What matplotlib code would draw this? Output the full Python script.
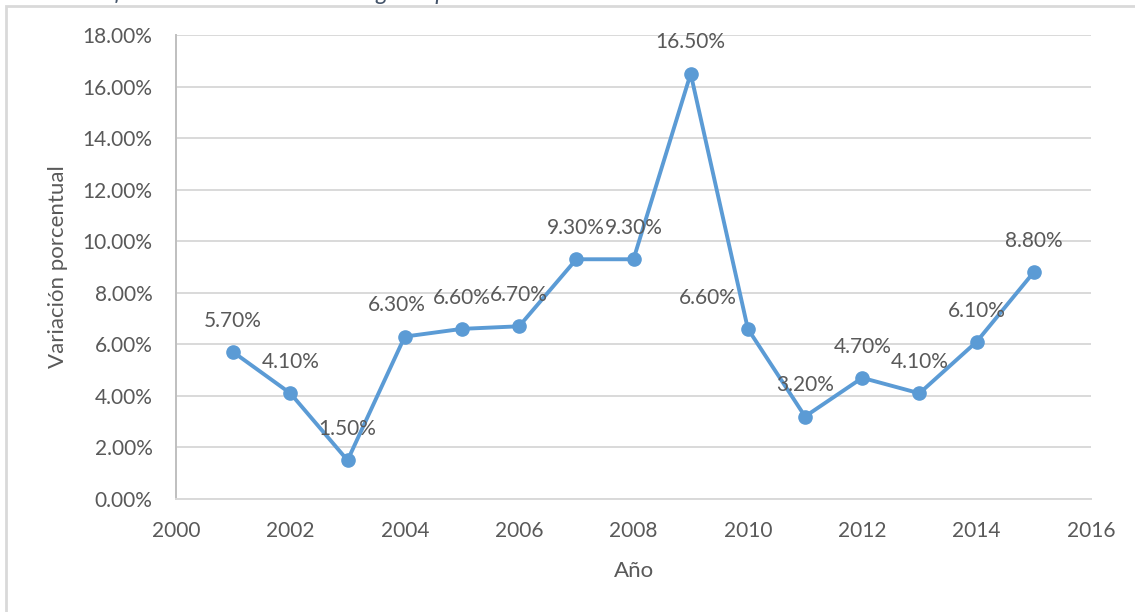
import matplotlib
matplotlib.use("Agg")
import matplotlib.pyplot as plt
from matplotlib.patches import Rectangle
from matplotlib.ticker import FuncFormatter, MultipleLocator

# Annual real growth of public spending (%)
years = [2001, 2002, 2003, 2004, 2005, 2006, 2007, 2008,
         2009, 2010, 2011, 2012, 2013, 2014, 2015]
growth = [5.7, 4.1, 1.5, 6.3, 6.6, 6.7, 9.3, 9.3,
          16.5, 6.6, 3.2, 4.7, 4.1, 6.1, 8.8]
title = "Gráfico 1 Crecimiento real del gasto público"
x_label = "Año"
y_label = "Variación porcentual"

line_color = "#5B9BD5"
text_color = "#595959"
grid_color = "#D9D9D9"

plt.rcParams["font.family"] = ["Lato", "DejaVu Sans"]

fig = plt.figure(figsize=(11.35, 6.12), dpi=100)
ax = fig.add_axes([176 / 1135, 1 - 499 / 612, 915 / 1135, 464 / 612])

# chart-area frame
fig.patches.append(Rectangle((6 / 1135, -0.1), 1.2, 1.1 - 6 / 612,
                             transform=fig.transFigure, fill=False,
                             edgecolor=grid_color, linewidth=2))

# caption above the frame (cropped by the page edge)
fig.text(78 / 1135, 1 + 7 / 612, title, fontsize=17, style="italic",
         color="#44546A", ha="left", va="center")

ax.plot(years, growth, color=line_color, linewidth=2.8, marker="o",
        markersize=9.5, zorder=3, clip_on=False)

for yr, val in zip(years, growth):
    dx = -29 if yr == 2010 else (-6 if yr == 2004 else 0)
    ax.annotate(f"{val:.2f}%", (yr, val), xytext=(dx, 22.5),
                textcoords="offset points", ha="center", va="center",
                fontsize=15, color=text_color, zorder=4)

ax.set_xlim(2000, 2016)
ax.set_ylim(0, 18)
ax.xaxis.set_major_locator(MultipleLocator(2))
ax.yaxis.set_major_locator(MultipleLocator(2))
ax.yaxis.set_major_formatter(FuncFormatter(lambda v, _: f"{v:.2f}%"))

ax.grid(axis="y", color=grid_color, linewidth=1.4)
ax.set_axisbelow(True)
for side in ("top", "right"):
    ax.spines[side].set_visible(False)
ax.spines["left"].set_color("#BFBFBF")
ax.spines["bottom"].set_color(grid_color)
ax.spines["left"].set_linewidth(1.4)
ax.spines["bottom"].set_linewidth(1.4)
ax.tick_params(length=0, labelsize=15, labelcolor=text_color)
ax.tick_params(axis="y", pad=17)
ax.tick_params(axis="x", pad=16)

ax.set_xlabel(x_label, fontsize=16, color=text_color, labelpad=14)
ax.set_ylabel(y_label, fontsize=16, color=text_color, labelpad=10)

fig.savefig("out.png", dpi=100)
